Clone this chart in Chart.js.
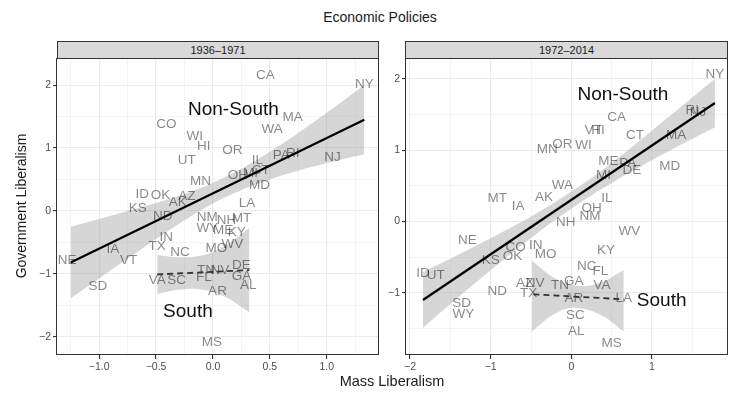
<!DOCTYPE html>
<html>
<head>
<meta charset="utf-8">
<script src="https://cdn.jsdelivr.net/npm/chart.js@4/dist/chart.umd.min.js"></script>
<style>
  html, body { margin: 0; padding: 0; background: #fff; }
  #wrap { position: relative; width: 737px; height: 394px; overflow: hidden; font-family: "Liberation Sans", Arial, sans-serif; }
  canvas { position: absolute; left: 0; top: 0; }
  .title { position: absolute; top: 9px; left: 0; width: 760px; text-align: center; font-size: 14px; color: #1a1a1a; }
  .strip { position: absolute; top: 41px; height: 18px; box-sizing: border-box; border: 1px solid #333; background: #d9d9d9;
           font-size: 11px; color: #1a1a1a; text-align: center; line-height: 16px; }
  .xtitle { position: absolute; top: 373px; left: 57px; width: 670px; text-align: center; font-size: 14.5px; color: #1a1a1a; }
  .ytitle { position: absolute; left: 21px; top: 206px; width: 220px; margin-left: -110px; margin-top: -8px; text-align: center;
            font-size: 14px; color: #1a1a1a; transform: rotate(-90deg); line-height: 16px; }
</style>
</head>
<body>
<div id="wrap">
  <div class="title">Economic Policies</div>
  <div class="strip" style="left:57px;width:322px;">1936–1971</div>
  <div class="strip" style="left:405px;width:323px;">1972–2014</div>
  <canvas id="p1" width="737" height="394"></canvas>
  <canvas id="p2" width="737" height="394"></canvas>
  <div class="xtitle">Mass Liberalism</div>
  <div class="ytitle">Government Liberalism</div>
</div>
<script>
// ---- 1936–1971 ----
const states1 = ['CA','NY','CO','WI','HI','MA','WA','OR','PA','RI','NJ','IL','UT','MN','OH','MI','CT','MD','ID','OK',
                 'AZ','AK','KS','ND','LA','NM','MT','NH','WY','ME','KY','IN','TX','NC','MO','WV','IA','VT','NE','SD',
                 'VA','SC','TN','NV','DE','FL','GA','AL','AR','MS'];
const mass1 = [0.46, 1.33, -0.41, -0.16, -0.08, 0.70, 0.52, 0.17, 0.60, 0.70, 1.05, 0.39, -0.23, -0.11, 0.22, 0.33, 0.42, 0.41, -0.62, -0.46,
               -0.23, -0.31, -0.66, -0.44, 0.30, -0.05, 0.25, 0.12, -0.05, 0.09, 0.21, -0.41, -0.49, -0.29, 0.03, 0.17, -0.88, -0.74, -1.28, -1.01,
               -0.49, -0.32, -0.06, 0.06, 0.25, -0.08, 0.25, 0.31, 0.04, -0.01];
const gov1 = [2.16, 2.02, 1.38, 1.19, 1.03, 1.49, 1.30, 0.97, 0.89, 0.92, 0.85, 0.81, 0.81, 0.47, 0.57, 0.60, 0.64, 0.41, 0.27, 0.25,
              0.24, 0.13, 0.04, -0.09, 0.12, -0.10, -0.11, -0.15, -0.28, -0.30, -0.34, -0.42, -0.57, -0.65, -0.59, -0.53, -0.61, -0.78, -0.78, -1.20,
              -1.10, -1.10, -0.95, -0.95, -0.87, -1.06, -1.04, -1.18, -1.28, -2.09];
const fitX1 = [-1.25, 1.33];
const fitY1 = [-0.82, 1.45];
const bandX1 = [-1.25, -0.75, -0.25, 0.10, 0.50, 1.00, 1.33];
const bandHi1 = [-0.25, 0.00, 0.27, 0.53, 0.94, 1.56, 2.00];
const bandLo1 = [-1.39, -0.76, -0.15, 0.21, 0.50, 0.76, 0.90];
const southFitX1 = [-0.49, 0.32];
const southFitY1 = [-1.01, -0.94];
const southBandX1 = [-0.49, -0.30, -0.10, 0.10, 0.32];
const southBandHi1 = [-0.70, -0.735, -0.71, -0.56, -0.27];
const southBandLo1 = [-1.32, -1.255, -1.25, -1.36, -1.61];
const groupX1 = [0.18, -0.22];
const groupY1 = [1.60, -1.60];

// ---- 1972–2014 ----
const states2 = ['NY','RI','NJ','CA','VT','HI','CT','MA','MN','OR','WI','ME','PA','DE','MD','MI','WA','MT','IA','AK',
                 'IL','OH','NM','NH','WV','NE','CO','IN','KS','OK','MO','KY','NC','FL','ID','UT','GA','VA','TN','AZ',
                 'NV','TX','ND','AR','LA','SD','WY','SC','AL','MS'];
const mass2 = [1.78, 1.50, 1.57, 0.56, 0.27, 0.33, 0.79, 1.30, -0.30, -0.11, 0.15, 0.46, 0.70, 0.75, 1.22, 0.40, -0.11, -0.92, -0.66, -0.34,
               0.44, 0.25, 0.23, -0.07, 0.72, -1.29, -0.69, -0.44, -1.00, -0.73, -0.32, 0.43, 0.19, 0.36, -1.84, -1.68, 0.03, 0.38, -0.14, -0.58,
               -0.45, -0.53, -0.92, 0.03, 0.65, -1.36, -1.34, 0.05, 0.06, 0.50];
const gov2 = [2.06, 1.56, 1.53, 1.46, 1.28, 1.28, 1.21, 1.21, 1.01, 1.08, 1.07, 0.84, 0.82, 0.72, 0.77, 0.65, 0.51, 0.33, 0.22, 0.34,
              0.33, 0.19, 0.08, -0.01, -0.14, -0.27, -0.36, -0.34, -0.55, -0.49, -0.46, -0.41, -0.63, -0.70, -0.73, -0.75, -0.84, -0.89, -0.90, -0.87,
              -0.87, -1.01, -0.98, -1.07, -1.07, -1.15, -1.30, -1.31, -1.54, -1.71];
const fitX2 = [-1.84, 1.78];
const fitY2 = [-1.10, 1.66];
const bandX2 = [-1.84, -1.20, -0.50, 0.00, 0.50, 1.20, 1.78];
const bandHi2 = [-0.71, -0.35, 0.07, 0.42, 0.82, 1.46, 2.00];
const bandLo2 = [-1.49, -0.87, -0.23, 0.18, 0.54, 0.98, 1.32];
const southFitX2 = [-0.47, 0.65];
const southFitY2 = [-1.02, -1.09];
const southBandX2 = [-0.49, -0.20, 0.05, 0.35, 0.65];
const southBandHi2 = [-0.55, -0.80, -0.90, -0.86, -0.68];
const southBandLo2 = [-1.54, -1.29, -1.21, -1.30, -1.54];
const groupX2 = [0.64, 1.12];
const groupY2 = [1.78, -1.11];

const groupLabels = ['Non-South', 'South'];

// axis ticks (labelled) and minor grid positions
const xTicks1 = [-1.0, -0.5, 0.0, 0.5, 1.0];
const xMinor1 = [-1.25, -0.75, -0.25, 0.25, 0.75, 1.25];
const yTicks1 = [-2, -1, 0, 1, 2];
const yMinor1 = [-1.5, -0.5, 0.5, 1.5];
const xTicks2 = [-2, -1, 0, 1];
const xMinor2 = [-1.5, -0.5, 0.5, 1.5];
const yTicks2 = [-1, 0, 1, 2];
const yMinor2 = [-1.5, -0.5, 0.5, 1.5];

const xRange1 = [-1.37, 1.45];
const yRange1 = [-2.29, 2.43];
const xRange2 = [-2.05, 1.93];
const yRange2 = [-1.87, 2.29];

const BAND = 'rgba(153,153,153,0.4)';
const FONT = '"Liberation Sans", Arial, sans-serif';

function pts(xs, ys) { return xs.map((x, i) => ({ x: x, y: ys[i] })); }
function fmt(v, dec) { return (v < 0 ? '\u2212' : '') + Math.abs(v).toFixed(dec); }

// state codes and group names drawn as text at their data points
const textPlugin = {
  id: 'textMarks',
  afterDatasetDraw(chart, args) {
    const ds = chart.data.datasets[args.index];
    const texts = ds.stateText || ds.groupText;
    if (!texts) return;
    const ctx = chart.ctx, a = chart.chartArea;
    ctx.save();
    ctx.beginPath();
    ctx.rect(a.left, a.top, a.right - a.left, a.bottom - a.top);
    ctx.clip();
    ctx.textAlign = 'center';
    ctx.textBaseline = 'middle';
    if (ds.stateText) {
      ctx.font = '13.5px ' + FONT;
      ctx.fillStyle = 'rgba(0,0,0,0.47)';
    } else {
      ctx.font = '19px ' + FONT;
      ctx.fillStyle = '#111';
    }
    args.meta.data.forEach((el, i) => ctx.fillText(texts[i], el.x, el.y));
    ctx.restore();
  }
};

// panel frame
const framePlugin = {
  id: 'frame',
  afterDraw(chart) {
    const ctx = chart.ctx, a = chart.chartArea;
    ctx.save();
    ctx.strokeStyle = '#333';
    ctx.lineWidth = 1;
    ctx.strokeRect(Math.round(a.left) - 0.5, Math.round(a.top) + 0.5,
                   Math.round(a.right - a.left) + 1, Math.round(a.bottom - a.top) - 1);
    ctx.restore();
  }
};

function makeAxis(range, major, minor, dec, sizeKey, size) {
  const all = major.concat(minor).sort((a, b) => a - b);
  return {
    type: 'linear',
    min: range[0],
    max: range[1],
    afterBuildTicks: (axis) => { axis.ticks = all.map(v => ({ value: v })); },
    afterFit: (axis) => { axis[sizeKey] = size; },
    border: { display: false },
    grid: {
      color: '#ebebeb',
      lineWidth: (c) => major.includes(c.tick.value) ? 1.1 : 0.55,
      tickColor: (c) => major.includes(c.tick.value) ? '#333' : 'rgba(0,0,0,0)',
      tickLength: 4,
      drawTicks: true
    },
    ticks: {
      autoSkip: false,
      maxRotation: 0,
      padding: 2,
      color: '#4d4d4d',
      font: { family: FONT, size: 10.5 },
      callback: (v) => major.includes(v) ? fmt(v, dec) : ''
    }
  };
}

function buildPanel(id, p) {
  const datasets = [
    { data: pts(p.fitX, p.fitY), showLine: true, borderColor: '#000', borderWidth: 2.2, pointRadius: 0, fill: false },
    { data: pts(p.southFitX, p.southFitY), showLine: true, borderColor: '#333', borderWidth: 1.8, borderDash: [6, 4], pointRadius: 0, fill: false },
    { data: pts(p.mass, p.gov), showLine: false, pointRadius: 0, stateText: p.states, fill: false },
    { data: pts(p.groupX, p.groupY), showLine: false, pointRadius: 0, groupText: groupLabels, fill: false },
    { data: pts(p.bandX, p.bandHi), showLine: true, borderColor: 'rgba(0,0,0,0)', borderWidth: 0, pointRadius: 0, tension: 0.4, fill: '+1', backgroundColor: BAND },
    { data: pts(p.bandX, p.bandLo), showLine: true, borderColor: 'rgba(0,0,0,0)', borderWidth: 0, pointRadius: 0, tension: 0.4, fill: false },
    { data: pts(p.southBandX, p.southBandHi), showLine: true, borderColor: 'rgba(0,0,0,0)', borderWidth: 0, pointRadius: 0, tension: 0.4, fill: '+1', backgroundColor: BAND },
    { data: pts(p.southBandX, p.southBandLo), showLine: true, borderColor: 'rgba(0,0,0,0)', borderWidth: 0, pointRadius: 0, tension: 0.4, fill: false }
  ];
  return new Chart(document.getElementById(id), {
    type: 'line',
    data: { datasets: datasets },
    options: {
      responsive: false,
      animation: false,
      devicePixelRatio: 1,
      layout: { padding: p.padding },
      plugins: { legend: { display: false }, tooltip: { enabled: false } },
      scales: {
        x: makeAxis(p.xRange, p.xTicks, p.xMinor, p.xDec, 'height', 39),
        y: Object.assign(makeAxis(p.yRange, p.yTicks, p.yMinor, 0, 'width', p.yWidth), { position: 'left' })
      }
    },
    plugins: [textPlugin, framePlugin]
  });
}

buildPanel('p1', {
  states: states1, mass: mass1, gov: gov1,
  fitX: fitX1, fitY: fitY1, bandX: bandX1, bandHi: bandHi1, bandLo: bandLo1,
  southFitX: southFitX1, southFitY: southFitY1, southBandX: southBandX1, southBandHi: southBandHi1, southBandLo: southBandLo1,
  groupX: groupX1, groupY: groupY1,
  xRange: xRange1, yRange: yRange1, xTicks: xTicks1, xMinor: xMinor1, yTicks: yTicks1, yMinor: yMinor1, xDec: 1,
  yWidth: 57, padding: { left: 0, right: 359, top: 58, bottom: 0 }
});

buildPanel('p2', {
  states: states2, mass: mass2, gov: gov2,
  fitX: fitX2, fitY: fitY2, bandX: bandX2, bandHi: bandHi2, bandLo: bandLo2,
  southFitX: southFitX2, southFitY: southFitY2, southBandX: southBandX2, southBandHi: southBandHi2, southBandLo: southBandLo2,
  groupX: groupX2, groupY: groupY2,
  xRange: xRange2, yRange: yRange2, xTicks: xTicks2, xMinor: xMinor2, yTicks: yTicks2, yMinor: yMinor2, xDec: 0,
  yWidth: 26, padding: { left: 380, right: 10, top: 58, bottom: 0 }
});
</script>
</body>
</html>
